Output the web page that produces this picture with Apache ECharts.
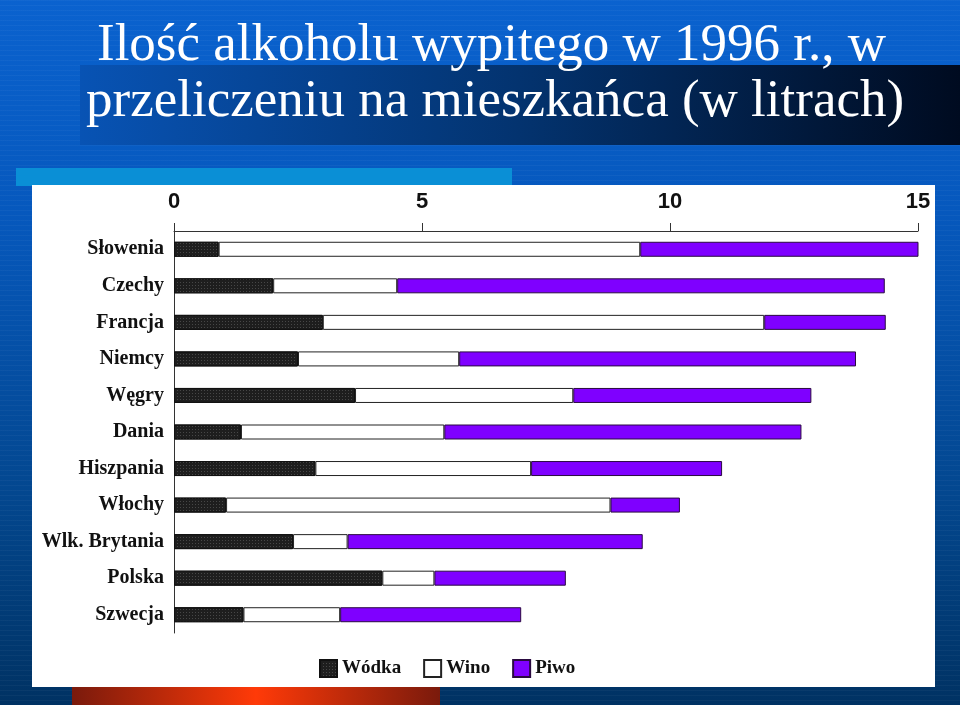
<!DOCTYPE html>
<html>
<head>
<meta charset="utf-8">
<script src="https://cdn.jsdelivr.net/npm/echarts@6/dist/echarts.min.js"></script>
<style>
html,body{margin:0;padding:0;}
#wrap{width:960px;height:705px;position:relative;overflow:hidden;
background:
 repeating-linear-gradient(180deg, rgba(255,255,255,0.035) 0px, rgba(255,255,255,0.035) 1px, rgba(0,0,0,0) 1px, rgba(0,0,0,0) 5px),
 linear-gradient(180deg,#0a62cf 0%,#0658bd 30%,#03478f 70%,#003263 100%);}
#chart{width:960px;height:705px;position:absolute;left:0;top:0;}
</style>
</head>
<body>
<div id="wrap"><div id="chart"></div></div>
<script>
const titleLine1 = 'Ilość alkoholu wypitego w 1996 r., w';
const titleLine2 = 'przeliczeniu na mieszkańca (w litrach)';
const categories = ['Słowenia','Czechy','Francja','Niemcy','Węgry','Dania','Hiszpania','Włochy','Wlk. Brytania','Polska','Szwecja'];
const seriesNames = ['Wódka','Wino','Piwo'];
const vodka = [0.9, 2.0, 3.0, 2.5, 3.65, 1.35, 2.85, 1.05, 2.4, 4.2, 1.4];
const wine  = [8.5, 2.5, 8.9, 3.25, 4.4, 4.1, 4.35, 7.75, 1.1, 1.05, 1.95];
const beer  = [5.67, 9.83, 2.45, 8.0, 4.8, 7.2, 3.85, 1.4, 5.95, 2.65, 3.65];
const xTicks = [0, 5, 10, 15];

const chart = echarts.init(document.getElementById('chart'), null, {renderer:'canvas'});
const serifBold = {fontFamily:'"Liberation Serif","Times New Roman",serif', fontWeight:'bold', color:'#111'};

chart.setOption({
  backgroundColor: 'transparent',
  animation: false,
  graphic: [
    {type:'rect', z:-10, shape:{x:80,y:65,width:880,height:80},
     style:{fill:new echarts.graphic.LinearGradient(0,0,1,0,[{offset:0,color:'#0853b4'},{offset:0.5,color:'#03336f'},{offset:1,color:'#000b20'}])}},
    {type:'rect', z:-10, shape:{x:16,y:168,width:496,height:18}, style:{fill:'#0a8fd6'}},
    {type:'rect', z:-10, shape:{x:32,y:185,width:903,height:502}, style:{fill:'#ffffff'}},
    {type:'rect', z:-10, shape:{x:72,y:687,width:368,height:18},
     style:{fill:new echarts.graphic.LinearGradient(0,0,1,0,[{offset:0,color:'#7a1a0c'},{offset:0.5,color:'#ff3a08'},{offset:1,color:'#7a1a0c'}])}},
    {type:'text', z:10, x:97, y:46, style:{text:titleLine1, fill:'#ffffff', font:'53px "Liberation Serif","Times New Roman",serif', textVerticalAlign:'middle'}},
    {type:'text', z:10, x:86, y:102, style:{text:titleLine2, fill:'#ffffff', font:'53px "Liberation Serif","Times New Roman",serif', textVerticalAlign:'middle'}}
  ],
  legend: {
    data: seriesNames,
    left: 314, top: 654,
    itemWidth: 17, itemHeight: 17, itemGap: 22,
    icon: 'rect',
    textStyle: Object.assign({fontSize:19}, serifBold)
  },
  grid: {left:174, right:42, top:231, bottom:72, containLabel:false},
  xAxis: {
    type:'value', position:'top', min:0, max:15, interval:5,
    axisLine:{show:true, lineStyle:{color:'#333', width:1}},
    axisTick:{show:true, length:8, inside:false, lineStyle:{color:'#333'}},
    splitLine:{show:false},
    axisLabel:{margin:18, fontSize:22, fontWeight:'bold', color:'#111', fontFamily:'"Liberation Sans",Arial,sans-serif',
      customValues: xTicks}
  },
  yAxis: {
    type:'category', data:categories, inverse:true,
    axisLine:{show:true, lineStyle:{color:'#333', width:1}},
    axisTick:{show:false},
    axisLabel:Object.assign({fontSize:20, margin:10}, serifBold)
  },
  series: [
    {name:seriesNames[0], type:'bar', stack:'t', data:vodka, barWidth:15,
     itemStyle:{color:'#1e1e1e', borderColor:'#111', borderWidth:1,
       decal:{symbol:'rect', symbolSize:1, dashArrayX:[1,2], dashArrayY:[1,2], color:'rgba(255,255,255,0.18)'}}},
    {name:seriesNames[1], type:'bar', stack:'t', data:wine, barWidth:15,
     itemStyle:{color:'#ffffff', borderColor:'#222', borderWidth:1}},
    {name:seriesNames[2], type:'bar', stack:'t', data:beer, barWidth:15,
     itemStyle:{color:'#7f00ff', borderColor:'#2a0a40', borderWidth:1}}
  ]
});
</script>
</body>
</html>
